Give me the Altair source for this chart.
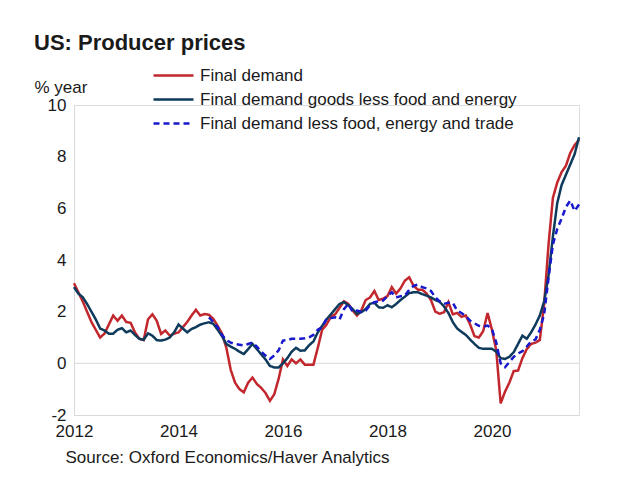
import altair as alt
import pandas as pd

START_YEAR = 2012  # first month: January 2012, monthly data to September 2021

series_names = [
    "Final demand",
    "Final demand goods less food and energy",
    "Final demand less food, energy and trade",
]
series_colors = ["#c1272d", "#0e3a5c", "#1818cc"]

final_demand = [
    3.1, 2.75, 2.4, 2.0, 1.6, 1.3, 1.0, 1.15, 1.5, 1.85, 1.65, 1.85,
    1.6, 1.57, 1.2, 0.95, 0.9, 1.7, 1.9, 1.65, 1.14, 1.27, 1.07, 1.15,
    1.2, 1.4, 1.6, 1.85, 2.07, 1.85, 1.91, 1.88, 1.72, 1.45, 1.15, 0.6,
    -0.25, -0.75, -1.0, -1.12, -0.75, -0.55, -0.8, -0.95, -1.15, -1.45, -1.2, -0.6,
    0.15, -0.1, 0.15, 0.0, 0.15, -0.05, -0.05, -0.05, 0.6, 1.3, 1.5, 1.8,
    1.9, 2.15, 2.4, 2.3, 2.05, 1.85, 2.05, 2.45, 2.55, 2.8, 2.45, 2.5,
    2.6, 2.95, 2.7, 2.9, 3.2, 3.33, 3.0, 2.85, 2.85, 2.7, 2.45, 2.0,
    1.92, 1.98, 2.37, 1.9, 1.95, 1.8, 1.85, 1.5, 1.05, 1.0, 1.25, 1.95,
    1.3, 0.5, -1.55, -1.1, -0.75, -0.3, -0.28, 0.2, 0.55, 0.75, 0.8, 0.9,
    2.3, 4.6, 6.4, 7.0, 7.4, 7.65, 8.15, 8.45, 8.65,
]

goods_less_food_energy = [
    2.95, 2.7, 2.56, 2.3, 2.0, 1.7, 1.35, 1.27, 1.15, 1.15, 1.3, 1.36,
    1.2, 1.27, 1.1, 0.95, 0.91, 1.16, 1.07, 0.9, 0.88, 0.92, 1.0, 1.2,
    1.5, 1.35, 1.2, 1.33, 1.4, 1.5, 1.55, 1.59, 1.53, 1.3, 1.05, 0.75,
    0.65, 0.56, 0.45, 0.36, 0.55, 0.75, 0.55, 0.35, 0.15, -0.1, -0.16, -0.16,
    0.0, 0.2, 0.45, 0.6, 0.49, 0.5, 0.7, 0.85, 1.2, 1.45, 1.7, 1.9,
    2.1, 2.3, 2.37, 2.25, 2.1, 1.92, 1.98, 2.1, 2.3, 2.35, 2.17, 2.15,
    2.25, 2.17, 2.3, 2.45, 2.58, 2.72, 2.75, 2.75, 2.68, 2.62, 2.55, 2.45,
    2.38, 2.2, 1.95, 1.6, 1.35, 1.22, 1.1, 0.92, 0.75, 0.6, 0.56, 0.56,
    0.56, 0.45, 0.2, 0.17, 0.25, 0.43, 0.75, 1.07, 0.95, 1.2, 1.5, 1.85,
    2.4, 3.4, 4.9, 6.2, 6.9, 7.3, 7.7, 8.1, 8.75,
]

less_food_energy_trade = [None] * 31 + [
    1.78, 1.6, 1.4, 1.1, 0.9,
    0.8, 0.75, 0.72, 0.69, 0.75, 0.81, 0.65, 0.45, 0.3, 0.17, 0.3, 0.5,
    0.88, 0.9, 0.95, 0.95, 0.95, 0.97, 1.01, 1.1, 1.3, 1.4, 1.72, 1.75,
    1.78, 1.7, 2.1, 2.3, 2.0, 2.04, 2.0, 2.04, 2.25, 2.37, 2.4, 2.43,
    2.6, 2.75, 2.55, 2.6, 2.62, 2.85, 3.0, 3.05, 2.95, 2.9, 2.8, 2.55,
    2.4, 2.3, 2.35, 2.35, 2.04, 1.95, 1.82, 1.65, 1.55, 1.45, 1.42, 1.46,
    1.33, 0.8, 0.0, -0.15, 0.05, 0.25, 0.38, 0.47, 0.65, 0.85, 0.92, 1.3,
    1.9, 3.3, 4.6, 5.2, 5.6, 6.05, 6.3, 5.9, 6.15,
]

year_ticks = [2012, 2014, 2016, 2018, 2020]
y_ticks = [-2, 0, 2, 4, 6, 8, 10]

rows = []
for order, (name, vals) in enumerate(
    zip(series_names, [final_demand, goods_less_food_energy, less_food_energy_trade])
):
    for i, v in enumerate(vals):
        if v is None:
            continue
        rows.append({"t": START_YEAR + i / 12, "series": name, "value": v, "order": order})
df = pd.DataFrame(rows)

n_months = len(final_demand)
x_scale = alt.Scale(domain=[START_YEAR, START_YEAR + (n_months - 1) / 12], nice=False, zero=False)
y_scale = alt.Scale(domain=[-2, 10], nice=False)

FONT = "Liberation Sans"
TXT = "#1a1a1a"
GRID = "#d9d9d9"
FS = 17

legend = alt.Legend(
    title=None,
    orient="none",
    legendX=88,
    legendY=-41,
    direction="vertical",
    symbolType="M-2,0H2",
    symbolSize=400,
    symbolStrokeWidth=2.5,
    labelFontSize=FS,
    labelFont=FONT,
    labelColor=TXT,
    labelOffset=15,
    rowPadding=4,
    padding=0,
    labelLimit=500,
)

zero_df = pd.DataFrame({"v": [0]})
zero_rule = alt.Chart(zero_df).mark_rule(color=GRID, strokeWidth=1).encode(
    y=alt.Y("v:Q", scale=y_scale)
)

lines = alt.Chart(df).mark_line(strokeWidth=2.5).encode(
    x=alt.X(
        "t:Q",
        scale=x_scale,
        axis=alt.Axis(
            values=year_ticks,
            format="d",
            ticks=False,
            grid=False,
            domainColor=GRID,
            labelFontSize=FS,
            labelFont=FONT,
            labelColor=TXT,
            labelPadding=8,
            labelFlush=False,
            title="Source: Oxford Economics/Haver Analytics",
            titleFont=FONT,
            titleFontSize=FS,
            titleFontWeight="normal",
            titleColor=TXT,
            titleAlign="left",
            titleBaseline="alphabetic",
            titleX=-9,
            titleY=47,
        ),
    ),
    y=alt.Y(
        "value:Q",
        scale=y_scale,
        axis=alt.Axis(
            values=y_ticks,
            ticks=False,
            grid=False,
            domainColor=GRID,
            labelFontSize=FS,
            labelFont=FONT,
            labelColor=TXT,
            labelPadding=8,
            labelExpr="datum.value + ''",
            title="% year",
            titleFont=FONT,
            titleFontSize=FS,
            titleFontWeight="normal",
            titleColor=TXT,
            titleAngle=0,
            titleAlign="left",
            titleBaseline="alphabetic",
            titleX=-40,
            titleY=-13,
        ),
    ),
    color=alt.Color(
        "series:N",
        scale=alt.Scale(domain=series_names, range=series_colors),
        legend=legend,
    ),
    strokeDash=alt.StrokeDash(
        "series:N",
        scale=alt.Scale(domain=series_names, range=[[1, 0], [1, 0], [6, 4]]),
        legend=legend,
    ),
    order=alt.Order("order:Q"),
)

chart = (
    alt.layer(zero_rule, lines)
    .properties(
        width=505,
        height=310,
        padding={"left": 66, "top": 97, "right": 40, "bottom": 60},
        autosize=alt.AutoSizeParams(type="none"),
        title=alt.Title(
            "US: Producer prices",
            anchor="start",
            fontSize=22,
            fontWeight="bold",
            font=FONT,
            color=TXT,
            dx=0,
            offset=9,
        ),
    )
    .configure_view(stroke=None)
    .configure(background="white")
)

chart.save("out.html", embed_options={"renderer": "svg", "actions": False})
